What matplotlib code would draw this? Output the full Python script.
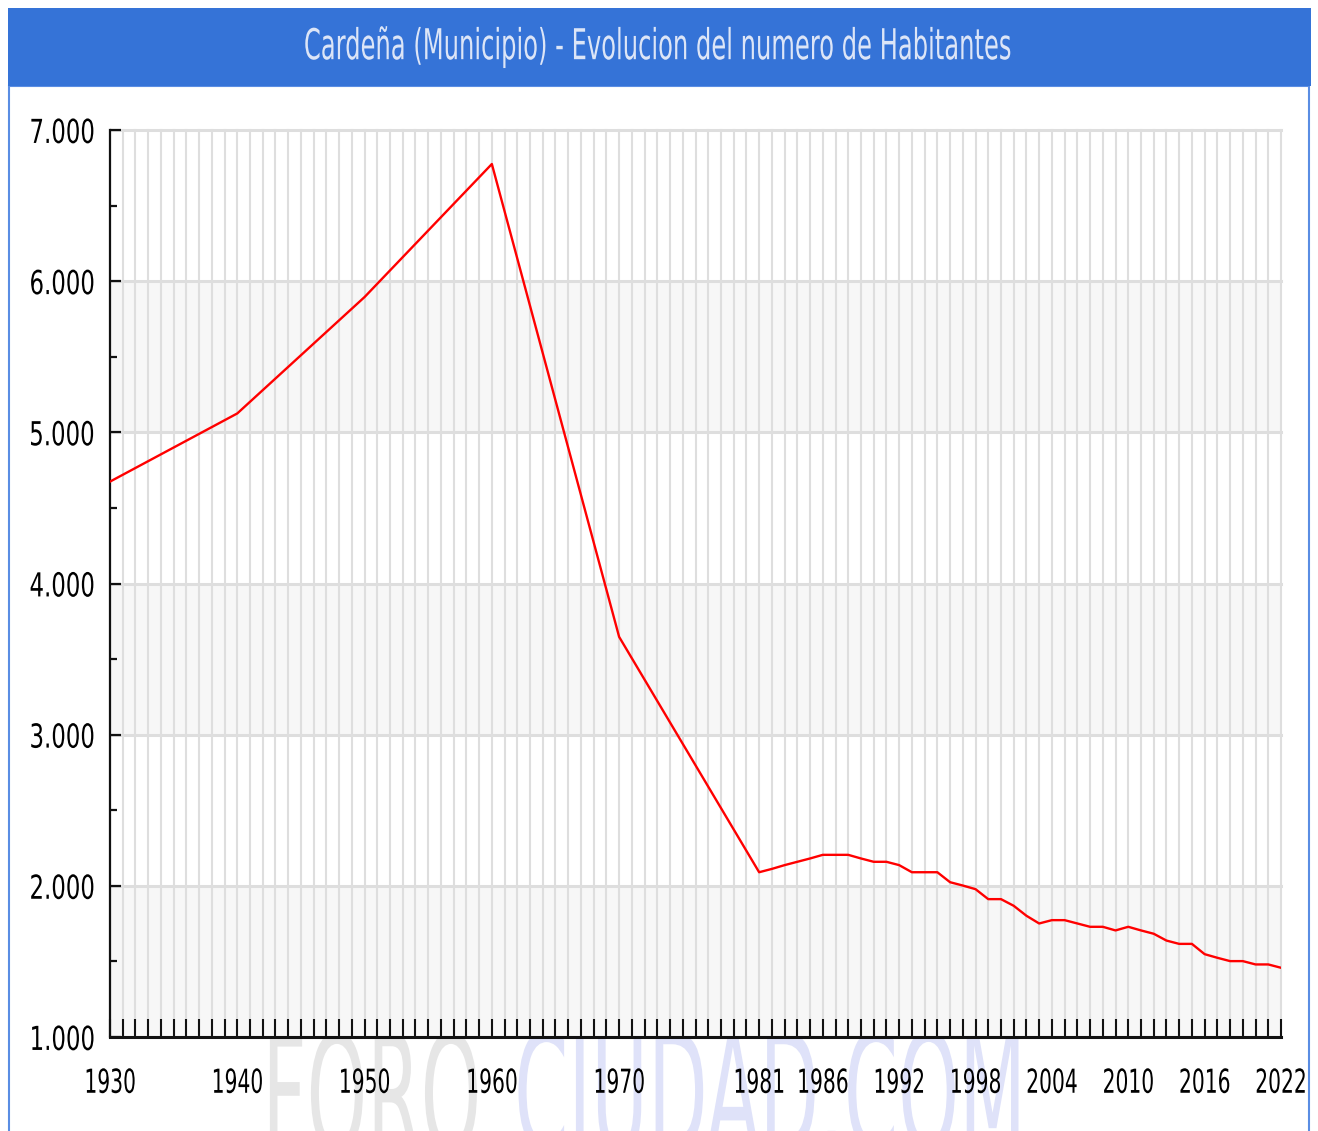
import matplotlib
matplotlib.use("Agg")
import matplotlib.pyplot as plt
from matplotlib.patches import Rectangle
from matplotlib.patheffects import AbstractPathEffect
from matplotlib.transforms import Affine2D
from matplotlib.textpath import TextPath
from matplotlib.font_manager import FontProperties

TITLE = "Cardeña (Municipio) - Evolucion del numero de Habitantes"

years = [1930, 1940, 1950, 1960, 1970,
         1981, 1982, 1983, 1984, 1985, 1986, 1987, 1988, 1989, 1990,
         1991, 1992, 1993, 1994, 1995, 1996, 1997, 1998, 1999, 2000,
         2001, 2002, 2003, 2004, 2005, 2006, 2007, 2008, 2009, 2010,
         2011, 2012, 2013, 2014, 2015, 2016, 2017, 2018, 2019, 2020,
         2021, 2022]
habitantes = [4674, 5125, 5895, 6775, 3647,
              2090, 2112, 2137, 2159, 2181, 2205, 2205, 2205, 2181, 2159,
              2159, 2137, 2090, 2090, 2090, 2024, 2002, 1978, 1912, 1912,
              1868, 1802, 1751, 1773, 1773, 1751, 1729, 1729, 1705, 1729,
              1705, 1683, 1638, 1616, 1616, 1548, 1524, 1502, 1502, 1480,
              1480, 1458]

label_years = [1930, 1940, 1950, 1960, 1970, 1981, 1986, 1992, 1998,
               2004, 2010, 2016, 2022]
all_years = list(range(1930, 2023))
y_major = [1000, 2000, 3000, 4000, 5000, 6000, 7000]
y_labels = ["1.000", "2.000", "3.000", "4.000", "5.000", "6.000", "7.000"]
y_minor = [1500, 2500, 3500, 4500, 5500, 6500]
bands = [(1000, 2000), (3000, 4000), (5000, 6000)]

W, H, DPI = 1318, 1131, 100
FONT = "DejaVu Sans"
plt.rcParams["font.family"] = [FONT]


class Stretch(AbstractPathEffect):
    """Rescale the glyph outlines of a text around its own box (fake condensed font)."""

    def __init__(self, sx, sy, anchor="center"):
        super().__init__()
        self.sx, self.sy, self.anchor = sx, sy, anchor

    def draw_path(self, renderer, gc, tpath, affine, rgbFace=None):
        ext = tpath.get_extents()
        if self.anchor == "right":
            cx = ext.x1
        elif self.anchor == "left":
            cx = ext.x0
        else:
            cx = (ext.x0 + ext.x1) / 2
        cy = (ext.y0 + ext.y1) / 2
        t = Affine2D().translate(-cx, -cy).scale(self.sx, self.sy).translate(cx, cy)
        renderer.draw_path(gc, tpath, t + affine, rgbFace)


def fit(s, size, w, h, anchor="center", ref=None):
    # natural size of the string in pixels -> factors to reach w x h
    prop = FontProperties(family=FONT)
    ext = TextPath((0, 0), s, size=size * DPI / 72, prop=prop).get_extents()
    ext_h = TextPath((0, 0), ref or s, size=size * DPI / 72, prop=prop).get_extents()
    return [Stretch(w / ext.width, h / ext_h.height, anchor)]


def box(x0, y0, x1, y1):
    # pixel box (top-left origin) -> figure fraction rect
    return (x0 / W, 1 - y1 / H), (x1 - x0) / W, (y1 - y0) / H


fig = plt.figure(figsize=(W / DPI, H / DPI), dpi=DPI)
fig.patch.set_facecolor("white")

# panel frame and blue title bar
xy, w, h = box(9, 86, 1309, 1140)
fig.add_artist(Rectangle(xy, w, h, transform=fig.transFigure, facecolor="none",
                         edgecolor="#5A8DE3", lw=1.5, zorder=-3))
xy, w, h = box(8, 8, 1311, 86)
fig.add_artist(Rectangle(xy, w, h, transform=fig.transFigure, facecolor="#3573D7",
                         edgecolor="none", zorder=-2))
fig.text(657.5 / W, 1 - 47 / H, TITLE, ha="center", va="center", color="#DCE5F7",
         fontsize=20, path_effects=fit(TITLE, 20, 705, 31, ref="H"))

# watermark under the x axis
fig.text(371.5 / W, 1 - 1100 / H, "FORO", ha="center", va="center", color="#E6E6E6",
         fontsize=60, zorder=-1, path_effects=fit("FORO", 60, 207, 125))
fig.text(770 / W, 1 - 1098 / H, "CIUDAD.COM", ha="center", va="center", color="#DFE2F9",
         fontsize=60, zorder=-1, path_effects=fit("CIUDAD.COM", 60, 500, 125, ref="C"))

ax = fig.add_axes([110 / W, 1 - 1037 / H, (1281 - 110) / W, (1037 - 130) / H])
ax.set_facecolor("white")
ax.set_xlim(1930, 2022)
ax.set_ylim(1000, 7000)
for lo, hi in bands:
    ax.axhspan(lo, hi, color="#F7F7F7", lw=0, zorder=0.1)

ax.set_xticks(all_years, [str(y) if y in label_years else "" for y in all_years])
ax.set_yticks(y_major, y_labels)
ax.set_yticks(y_minor, minor=True)
ax.set_axisbelow(True)
ax.grid(axis="x", color="#DEDEDE", lw=1.5)
ax.grid(axis="y", which="major", color="#DEDEDE", lw=2.2)
for gl in ax.get_xgridlines() + ax.get_ygridlines():
    gl.set_clip_on(False)

ax.plot(years, habitantes, color="#FF0000", lw=1.7, zorder=3)

for side in ("top", "right"):
    ax.spines[side].set_visible(False)
ax.spines["left"].set_linewidth(1.6)
ax.spines["bottom"].set_linewidth(2.2)
ax.spines["left"].set_color("#111111")
ax.spines["bottom"].set_color("#111111")

ax.tick_params(axis="x", direction="in", length=13, width=1.5, pad=24,
               labelsize=17, color="#111111")
ax.tick_params(axis="y", which="major", direction="in", length=7.7, width=1.6,
               pad=11, labelsize=17, color="#111111")
ax.tick_params(axis="y", which="minor", direction="in", length=5, width=1.6,
               color="#111111")

x_fx = fit("1930", 17, 48, 25)
for lab in ax.get_xticklabels():
    lab.set_path_effects(x_fx)
y_fx = fit("7.000", 17, 62, 25, anchor="right")
for lab in ax.get_yticklabels():
    lab.set_path_effects(y_fx)

fig.savefig("out.png", dpi=DPI)
